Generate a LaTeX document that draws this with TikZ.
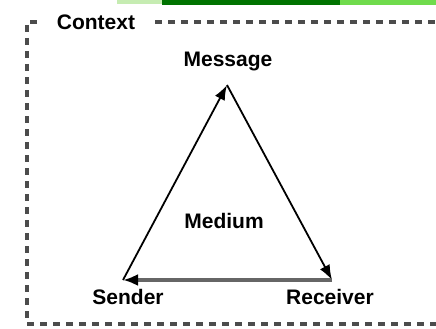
\documentclass[tikz,border=0pt]{standalone}
\usepackage{fontspec}
\setmainfont{Liberation Sans}
\usetikzlibrary{arrows.meta}

\tikzset{
    label/.style={font=\fontsize{21}{24}\selectfont\bfseries, inner sep=0pt},
    frameline/.style={black!70, line width=3.6pt, dash pattern=on 7pt off 6pt},
    side/.style={black, line width=1.8pt, -{Latex[length=15pt,width=11pt]}}
}

\begin{document}
\begin{tikzpicture}[x=1pt,y=-1pt]
    \useasboundingbox (0,0) rectangle (436,329);

    % Green strip along the top edge
    \fill[green!50!olive!30] (117,0) rectangle (162,4);
    \fill[green!45!black] (162,0) rectangle (340,5);
    \fill[green!60!olive!70] (340,0) rectangle (436,5);

    % Dashed context frame
    \draw[frameline] (37,22) -- (27,22) -- (27,324) -- (436,324);
    \draw[frameline] (155,22) -- (436,22);
    \node[label] (context) at (96,22) {Context};

    % Corners of the triangle
    \coordinate (top) at (227,85);
    \coordinate (left) at (123,280);
    \coordinate (right) at (332,280);

    % Labels
    \node[label] (message) at (228,62) {Message};
    \node[label] (sender) at (128,297) {Sender};
    \node[label] (receiver) at (330,297) {Receiver};
    \node[label] (medium) at (224,221) {Medium};

    % Sender to message, message to receiver
    \draw[side] (left) -- (top);
    \draw[side] (top) -- (right);

    % Receiver back to sender (grey line)
    \draw[black!60, line width=4.5pt, -{Latex[black,length=15pt,width=12pt]}] (right) -- (left);
\end{tikzpicture}
\end{document}
